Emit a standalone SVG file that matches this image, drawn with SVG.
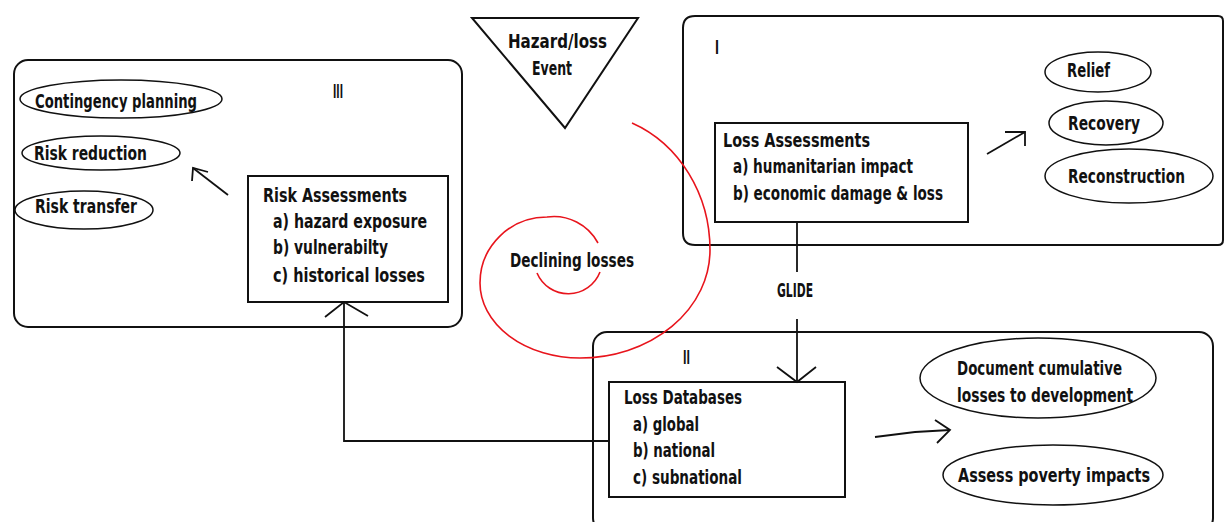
<svg xmlns="http://www.w3.org/2000/svg" width="1225" height="522" viewBox="0 0 1225 522">
<defs>
<style>
.panel{fill:none;stroke:#111;stroke-width:2}
.box{fill:#fff;stroke:#111;stroke-width:2}
.ell{fill:#fff;stroke:#111;stroke-width:1.5}
.tri{fill:#fff;stroke:#111;stroke-width:2}
.con{fill:none;stroke:#111;stroke-width:1.8}
.spiral{fill:none;stroke:#e8141c;stroke-width:1.6}
text{font-family:"DejaVu Sans Condensed","Liberation Sans",sans-serif;font-weight:bold;font-size:19px;fill:#111}
</style>
</defs>
<rect width="1225" height="522" fill="#fff"/>

<g id="panel-III">
<rect class="panel" x="14" y="60" width="448" height="267" rx="14"/>
<text x="333" y="98" textLength="10" lengthAdjust="spacingAndGlyphs">III</text>
</g>
<g id="contingency">
<ellipse class="ell" cx="121" cy="99" rx="101" ry="19"/>
<text x="35" y="108" textLength="162" lengthAdjust="spacingAndGlyphs">Contingency planning</text>
</g>
<g id="risk-reduction">
<ellipse class="ell" cx="101" cy="153" rx="79" ry="17"/>
<text x="34" y="160" textLength="113" lengthAdjust="spacingAndGlyphs">Risk reduction</text>
</g>
<g id="risk-transfer">
<ellipse class="ell" cx="84" cy="210" rx="69" ry="19"/>
<text x="35" y="213" textLength="102" lengthAdjust="spacingAndGlyphs">Risk transfer</text>
</g>
<g id="risk-assessments">
<rect class="box" x="248" y="176" width="200" height="126"/>
<text x="263" y="202" textLength="144" lengthAdjust="spacingAndGlyphs">Risk Assessments</text>
<text x="273" y="228" textLength="154" lengthAdjust="spacingAndGlyphs">a) hazard exposure</text>
<text x="273" y="254" textLength="115" lengthAdjust="spacingAndGlyphs">b) vulnerabilty</text>
<text x="273" y="282" textLength="152" lengthAdjust="spacingAndGlyphs">c) historical losses</text>
</g>

<g id="hazard-event">
<polygon class="tri" points="472,18 638,18 565,128"/>
<text x="508" y="48" textLength="99" lengthAdjust="spacingAndGlyphs">Hazard/loss</text>
<text x="532" y="75" textLength="40" lengthAdjust="spacingAndGlyphs">Event</text>
</g>

<g id="panel-I">
<path class="panel" d="M695,16 H1218 Q1223,16 1223,21 V240 Q1223,245 1218,245 H695 Q683,245 683,233 V28 Q683,16 695,16 Z"/>
<text x="715" y="54" textLength="4" lengthAdjust="spacingAndGlyphs">I</text>
</g>
<g id="loss-assessments">
<rect class="box" x="715" y="123" width="253" height="99"/>
<text x="723" y="147" textLength="147" lengthAdjust="spacingAndGlyphs">Loss Assessments</text>
<text x="733" y="173" textLength="180" lengthAdjust="spacingAndGlyphs">a) humanitarian impact</text>
<text x="733" y="200" textLength="210" lengthAdjust="spacingAndGlyphs">b) economic damage &amp; loss</text>
</g>
<g id="relief">
<ellipse class="ell" cx="1098" cy="72" rx="53" ry="20"/>
<text x="1067" y="77" textLength="43" lengthAdjust="spacingAndGlyphs">Relief</text>
</g>
<g id="recovery">
<ellipse class="ell" cx="1106" cy="123" rx="57" ry="22"/>
<text x="1068" y="130" textLength="72" lengthAdjust="spacingAndGlyphs">Recovery</text>
</g>
<g id="reconstruction">
<ellipse class="ell" cx="1129" cy="176" rx="84" ry="27"/>
<text x="1068" y="183" textLength="117" lengthAdjust="spacingAndGlyphs">Reconstruction</text>
</g>

<g id="panel-II">
<rect class="panel" x="593" y="332" width="620" height="200" rx="14"/>
<text x="683" y="364" textLength="7" lengthAdjust="spacingAndGlyphs">II</text>
</g>
<g id="loss-databases">
<rect class="box" x="609" y="382" width="236" height="115"/>
<text x="624" y="404" textLength="118" lengthAdjust="spacingAndGlyphs">Loss Databases</text>
<text x="633" y="431" textLength="66" lengthAdjust="spacingAndGlyphs">a) global</text>
<text x="633" y="457" textLength="82" lengthAdjust="spacingAndGlyphs">b) national</text>
<text x="633" y="484" textLength="109" lengthAdjust="spacingAndGlyphs">c) subnational</text>
</g>
<g id="document-losses">
<ellipse class="ell" cx="1038" cy="378" rx="118" ry="40"/>
<text x="957" y="375" textLength="165" lengthAdjust="spacingAndGlyphs">Document cumulative</text>
<text x="957" y="402" textLength="176" lengthAdjust="spacingAndGlyphs">losses to development</text>
</g>
<g id="poverty-impacts">
<ellipse class="ell" cx="1053" cy="475" rx="110" ry="30"/>
<text x="958" y="482" textLength="192" lengthAdjust="spacingAndGlyphs">Assess poverty impacts</text>
</g>

<g id="declining-losses">
<path class="spiral" d="M632,123 A125,137 0 0 1 710,250 A130,108 0 0 1 580,358 A100,75 0 0 1 480,283 A67,66 0 0 1 547,217 A50,50 0 0 1 598,243"/>
<path class="spiral" d="M537,273 A34,34 0 0 0 600,272"/>
<text x="510" y="267" textLength="124" lengthAdjust="spacingAndGlyphs">Declining losses</text>
</g>

<g id="connectors">
<line class="con" x1="797" y1="222" x2="797" y2="272"/>
<text x="777" y="297" textLength="36" lengthAdjust="spacingAndGlyphs">GLIDE</text>
<line class="con" x1="797" y1="319" x2="797" y2="382"/>
<polyline class="con" points="777,367 797,382 816,367"/>
<polyline class="con" points="609,441 344,441 344,303"/>
<polyline class="con" points="325,317 344,302 368,316"/>
<line class="con" x1="228" y1="195" x2="193" y2="168"/>
<polyline class="con" points="192,181 193,168 208,172"/>
<line class="con" x1="987" y1="154" x2="1025" y2="132"/>
<polyline class="con" points="1005,132 1025,132 1025,146"/>
<polyline class="con" points="875,437 915,432 950,430"/>
<polyline class="con" points="935,420 950,430 937,443"/>
</g>
</svg>
